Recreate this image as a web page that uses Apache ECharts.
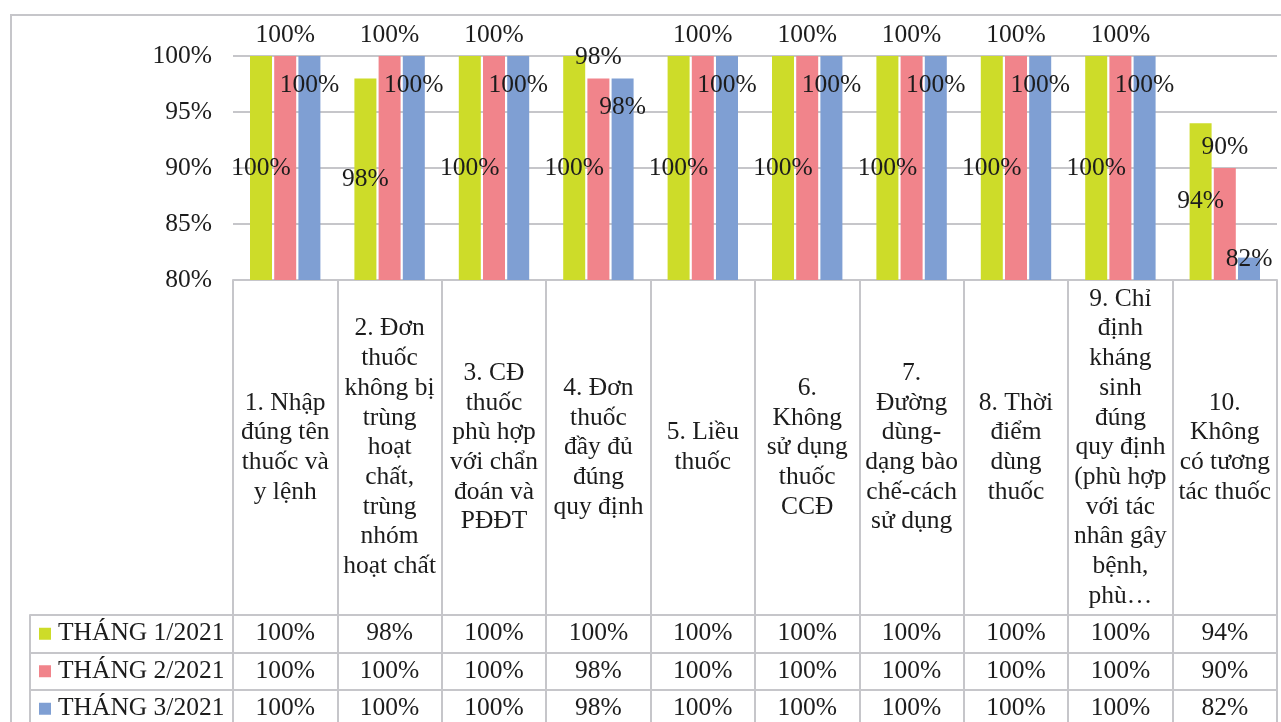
<!DOCTYPE html>
<html>
<head>
<meta charset="utf-8">
<script src="https://cdn.jsdelivr.net/npm/echarts@6/dist/echarts.min.js"></script>
<style>
  html, body { margin: 0; padding: 0; background: #ffffff; }
  #chart { width: 1281px; height: 722px; }
</style>
</head>
<body>
<div id="chart"></div>
<script>
// Criteria (column headers of the data table, wrapped as printed)
const categories = [
  '1. Nhập\nđúng tên\nthuốc và\ny lệnh',
  '2. Đơn\nthuốc\nkhông bị\ntrùng\nhoạt\nchất,\ntrùng\nnhóm\nhoạt chất',
  '3. CĐ\nthuốc\nphù hợp\nvới chẩn\nđoán và\nPĐĐT',
  '4. Đơn\nthuốc\nđầy đủ\nđúng\nquy định',
  '5. Liều\nthuốc',
  '6.\nKhông\nsử dụng\nthuốc\nCCĐ',
  '7.\nĐường\ndùng-\ndạng bào\nchế-cách\nsử dụng',
  '8. Thời\nđiểm\ndùng\nthuốc',
  '9. Chỉ\nđịnh\nkháng\nsinh\nđúng\nquy định\n(phù hợp\nvới tác\nnhân gây\nbệnh,\nphù…',
  '10.\nKhông\ncó tương\ntác thuốc'
];

// Month series names
const seriesNames = ['THÁNG 1/2021', 'THÁNG 2/2021', 'THÁNG 3/2021'];

// Percent compliant per criterion
const month1 = [100, 98, 100, 100, 100, 100, 100, 100, 100, 94];
const month2 = [100, 100, 100, 98, 100, 100, 100, 100, 100, 90];
const month3 = [100, 100, 100, 98, 100, 100, 100, 100, 100, 82];

// Value axis range
const yMin = 80;
const yMax = 100;
const yStep = 5;

const monthValues = [month1, month2, month3];
const colors = ['#cddc29', '#f1848b', '#7f9fd3'];
const lineGrey = '#c6c6ca';
const textColor = '#1c1c1c';
const serif = 'Liberation Serif';
const fontSize = 25.5;

const chart = echarts.init(document.getElementById('chart'));

const baseLabel = {
  show: true,
  fontFamily: serif,
  fontSize: fontSize,
  color: textColor,
  formatter: p => p.value + '%'
};

// Blue bars: label sits just inside the top; when the bar is too short, centre it on the bar end
const month3Data = month3.map(v => (v - yMin < yStep)
  ? { value: v, label: { position: 'top', distance: 0, offset: [0, 15] } }
  : v);

// Data-table cells: [criterion index, month index, value]
const cellData = [];
monthValues.forEach((arr, r) => arr.forEach((v, c) => cellData.push([c, r, v])));

const option = {
  backgroundColor: '#ffffff',
  animation: false,
  textStyle: { fontFamily: serif },
  graphic: [{
    type: 'rect',
    shape: { x: 11, y: 15, width: 1300, height: 730 },
    style: { fill: 'none', stroke: lineGrey, lineWidth: 2 },
    silent: true
  }],
  legend: {
    data: seriesNames,
    orient: 'vertical',
    left: 39,
    top: 615,
    height: 140,
    padding: 0,
    itemGap: 0,
    itemWidth: 12,
    itemHeight: 12,
    icon: 'rect',
    selectedMode: false,
    textStyle: {
      fontFamily: serif, fontSize: fontSize, color: textColor,
      lineHeight: 37.5, padding: [0, 0, 0, 2]
    }
  },
  grid: [
    // bar plot
    { left: 233, right: 4, top: 56, height: 224, outerBoundsMode: 'none', containLabel: false },
    // value cells of the table
    { left: 233, right: 4, top: 615, height: 112.5, outerBoundsMode: 'none', containLabel: false },
    // table row rules, including the row-header column
    { left: 30, right: 4, top: 615, height: 112.5, outerBoundsMode: 'none', containLabel: false }
  ],
  xAxis: [
    {
      gridIndex: 0,
      type: 'category',
      data: categories,
      axisLine: { show: true, lineStyle: { color: lineGrey, width: 2 } },
      axisTick: { show: true, interval: 0, length: 442, lineStyle: { color: lineGrey, width: 2 } },
      axisLabel: {
        interval: 0,
        margin: 167.5,
        verticalAlign: 'middle',
        align: 'center',
        lineHeight: 29.7,
        fontFamily: serif,
        fontSize: fontSize,
        color: textColor
      },
      splitLine: { show: false }
    },
    {
      gridIndex: 1,
      type: 'category',
      data: categories,
      show: false
    },
    {
      gridIndex: 2,
      type: 'value',
      show: false
    }
  ],
  yAxis: [
    {
      gridIndex: 0,
      type: 'value',
      min: yMin,
      max: yMax,
      interval: yStep,
      axisLine: { show: false },
      axisTick: { show: false },
      axisLabel: {
        formatter: '{value}%',
        margin: 21,
        fontFamily: serif,
        fontSize: fontSize,
        color: textColor
      },
      splitLine: { show: true, lineStyle: { color: lineGrey, width: 2 } }
    },
    {
      gridIndex: 1,
      type: 'category',
      data: seriesNames,
      inverse: true,
      show: false
    },
    {
      gridIndex: 2,
      type: 'category',
      data: seriesNames,
      inverse: true,
      axisLine: { show: true, lineStyle: { color: lineGrey, width: 2 } },
      axisTick: { show: false },
      axisLabel: { show: false },
      splitLine: { show: true, interval: 0, lineStyle: { color: lineGrey, width: 2 } }
    }
  ],
  series: [
    {
      name: seriesNames[0],
      type: 'bar',
      xAxisIndex: 0, yAxisIndex: 0,
      data: month1,
      barWidth: 22,
      barGap: '10%',
      itemStyle: { color: colors[0] },
      label: Object.assign({}, baseLabel, { position: 'inside' })
    },
    {
      name: seriesNames[1],
      type: 'bar',
      xAxisIndex: 0, yAxisIndex: 0,
      data: month2,
      barWidth: 22,
      barGap: '10%',
      itemStyle: { color: colors[1] },
      label: Object.assign({}, baseLabel, { position: 'top', distance: 8 })
    },
    {
      name: seriesNames[2],
      type: 'bar',
      xAxisIndex: 0, yAxisIndex: 0,
      data: month3Data,
      barWidth: 22,
      barGap: '10%',
      itemStyle: { color: colors[2] },
      label: Object.assign({}, baseLabel, { position: 'insideTop', distance: 16 })
    },
    {
      type: 'scatter',
      xAxisIndex: 1, yAxisIndex: 1,
      data: cellData,
      symbol: 'rect',
      symbolSize: 1,
      silent: true,
      itemStyle: { color: 'rgba(0,0,0,0)', opacity: 1 },
      label: {
        show: true,
        position: 'inside',
        fontFamily: serif,
        fontSize: fontSize,
        color: textColor,
        opacity: 1,
        formatter: p => p.value[2] + '%'
      }
    }
  ]
};

chart.setOption(option);
</script>
</body>
</html>
